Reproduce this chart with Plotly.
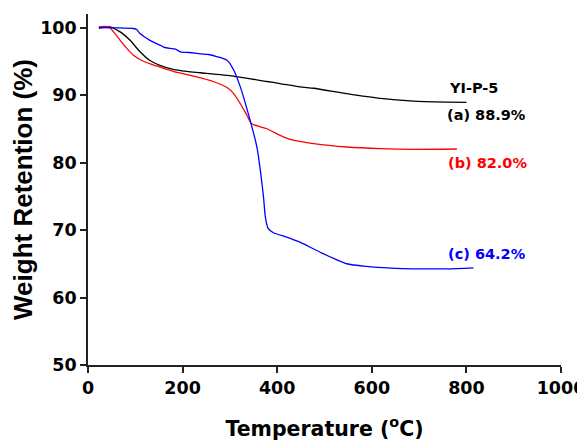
import plotly.graph_objects as go

# Black curve (a) YI-P-5
temp_a = [23, 46, 68, 89, 110, 131, 152, 180, 209, 237, 307, 378, 406, 448, 477, 547, 618, 688, 759, 800]
wt_a = [99.9, 100.1, 99.35, 98.1, 96.4, 95.1, 94.4, 93.8, 93.5, 93.3, 92.8, 92.0, 91.7, 91.2, 91.0, 90.2, 89.5, 89.1, 88.95, 88.9]

# Red curve (b)
temp_b = [23, 44, 54, 68, 82, 96, 117, 145, 180, 223, 265, 294, 308, 322, 336, 346, 378, 413, 434, 477, 547, 618, 688, 780]
wt_b = [100.1, 100.1, 99.35, 98.1, 96.9, 95.9, 95.0, 94.3, 93.5, 92.8, 92.0, 91.1, 90.2, 88.7, 87.0, 85.75, 85.0, 83.8, 83.3, 82.8, 82.3, 82.05, 81.95, 82.0]

# Blue curve (c)
temp_c = [23, 60, 96, 103, 110, 131, 145, 152, 160, 173, 185, 195, 215, 237, 255, 272, 294, 308, 322, 339, 357, 371, 375, 381, 392, 420, 448, 491, 547, 589, 640, 688, 759, 815]
wt_c = [100.0, 99.95, 99.85, 99.7, 99.1, 98.1, 97.6, 97.4, 97.1, 96.9, 96.8, 96.4, 96.3, 96.1, 96.0, 95.7, 95.15, 93.7, 91.2, 87.2, 82.3, 74.9, 71.9, 70.2, 69.6, 68.95, 68.2, 66.7, 65.0, 64.6, 64.35, 64.25, 64.25, 64.4]

x_ticks = [0, 200, 400, 600, 800, 1000]
y_ticks = [50, 60, 70, 80, 90, 100]

labels = ["YI-P-5", "(a) 88.9%", "(b) 82.0%", "(c) 64.2%"]
label_x = [759, 754, 757, 757]
label_y = [91.0, 87.0, 79.9, 66.4]
label_colors = ["black", "black", "red", "blue"]

fig = go.Figure()
fig.add_trace(go.Scatter(x=temp_a, y=wt_a, mode="lines", line=dict(color="black", width=1.3, shape="spline", smoothing=0.6), showlegend=False))
fig.add_trace(go.Scatter(x=temp_b, y=wt_b, mode="lines", line=dict(color="red", width=1.3, shape="spline", smoothing=0.6), showlegend=False))
fig.add_trace(go.Scatter(x=temp_c, y=wt_c, mode="lines", line=dict(color="blue", width=1.3, shape="spline", smoothing=0.6), showlegend=False))

ann_font = "DejaVu Sans"
for t, xx, yy, c in zip(labels, label_x, label_y, label_colors):
    fig.add_annotation(x=xx, y=yy, text=t, showarrow=False, xanchor="left", yanchor="middle",
                       font=dict(family=ann_font, size=14.5, color=c, weight="bold"))

tick_font = dict(family="DejaVu Sans", size=17.5, color="black", weight="bold")
axis_common = dict(showline=True, linecolor="#222", linewidth=1.6, showgrid=False, zeroline=False,
                   ticklen=6, tickwidth=1.6, tickcolor="#222", automargin=False)

# page body has an 8px margin, so the figure is drawn 8px in from the top-left corner
fig.update_layout(
    width=577, height=433,
    margin=dict(l=80, r=24, t=6, b=76),
    plot_bgcolor="white", paper_bgcolor="white",
    xaxis=dict(range=[0, 1000], tickvals=x_ticks, ticks="outside", tickfont=tick_font,
               ticklabeloverflow="allow",
               title=dict(text="Temperature (<sup>o</sup>C)", standoff=46,
                          font=dict(family="DejaVu Sans", size=20.5, color="black", weight="bold")),
               **axis_common),
    yaxis=dict(range=[50, 102], tickvals=y_ticks, ticks="outside", tickfont=tick_font,
               ticklabeloverflow="allow",
               title=dict(text="Weight Retention (%)", standoff=6,
                          font=dict(family="Liberation Sans, Arial", size=26, color="black", weight="bold")),
               **axis_common),
    xaxis2=dict(range=[0, 1000], tickvals=x_ticks, ticks="inside", overlaying="x", side="top",
                showticklabels=False, **axis_common),
    yaxis2=dict(range=[50, 102], tickvals=y_ticks, ticks="inside", overlaying="y", side="right",
                showticklabels=False, **axis_common),
)

fig.write_html("out.html")
